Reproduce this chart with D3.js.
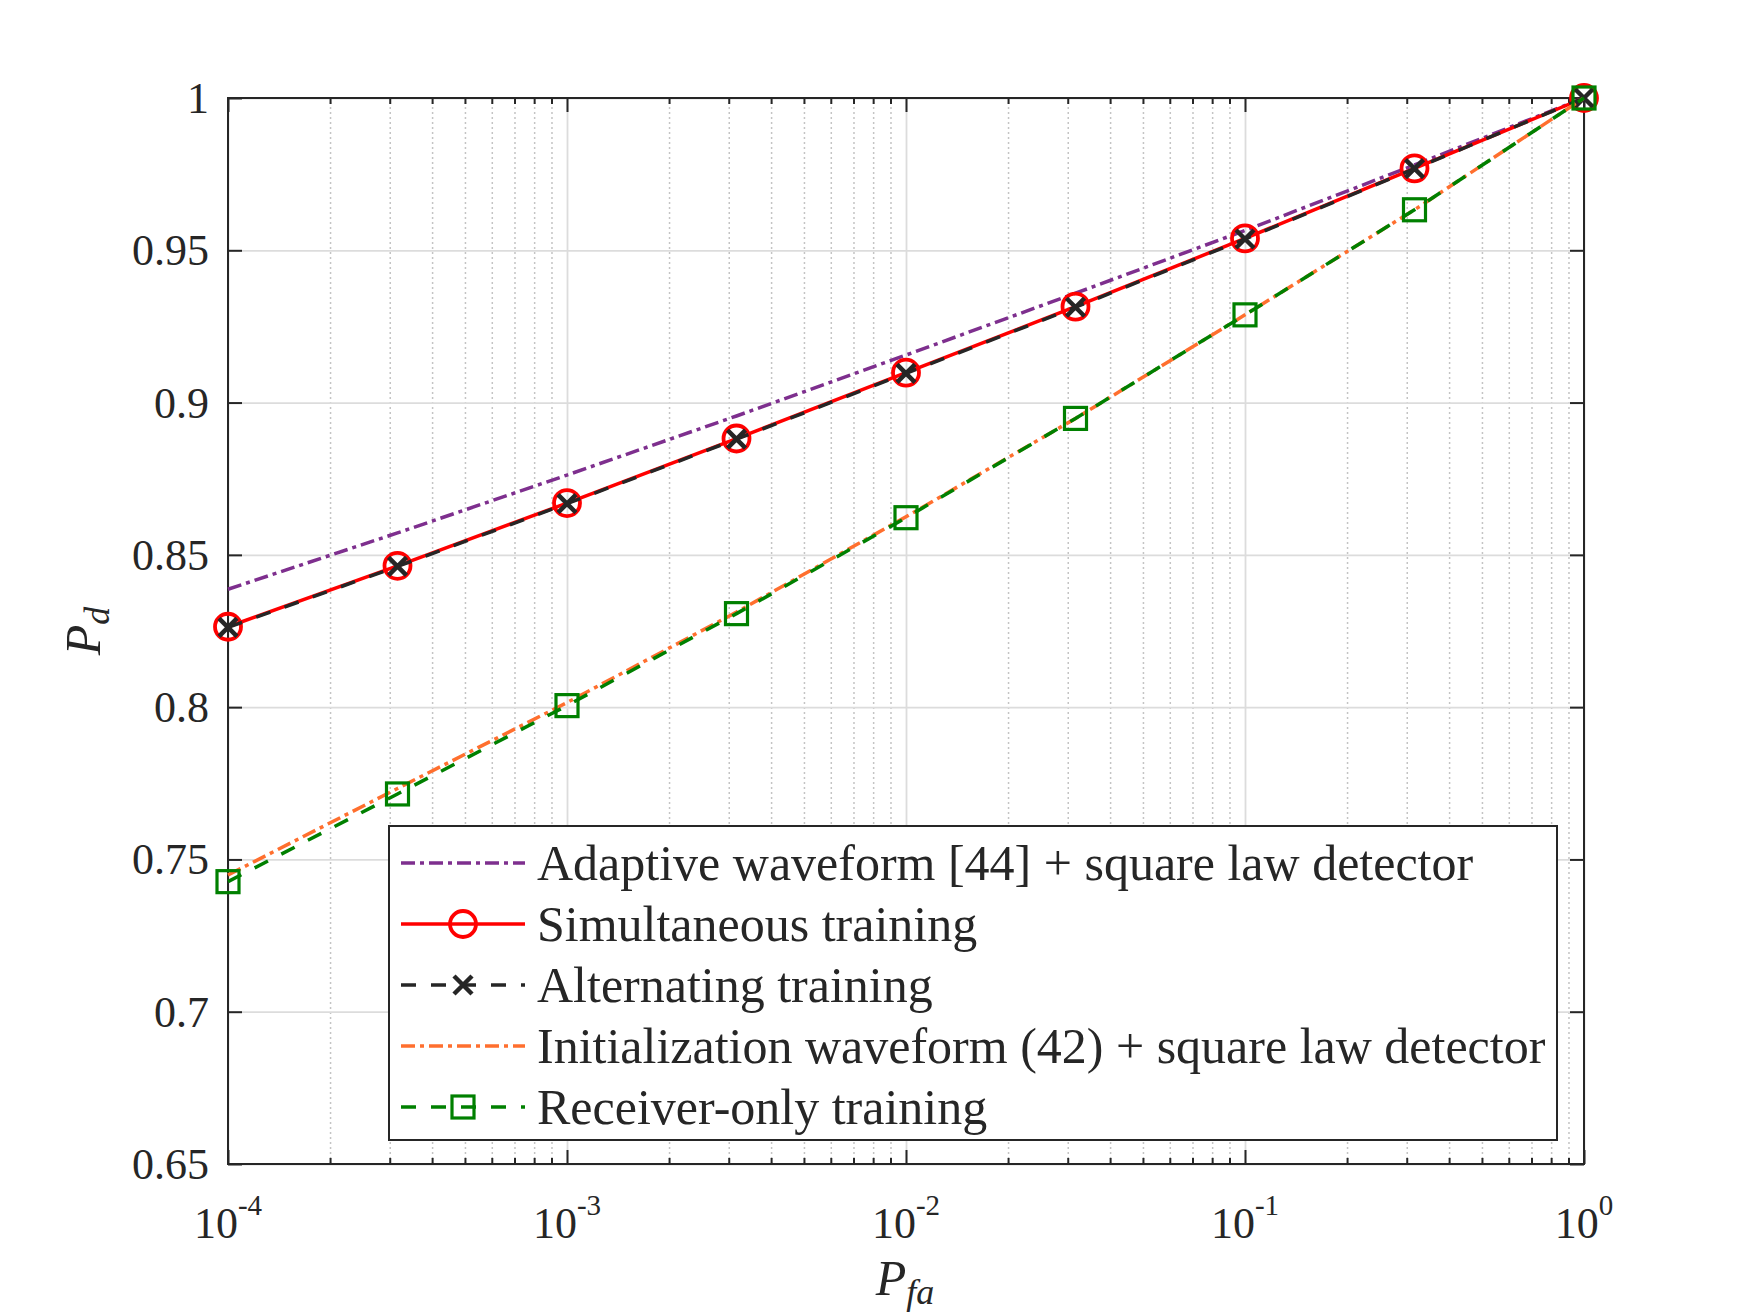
<!DOCTYPE html>
<html>
<head>
<meta charset="utf-8">
<script src="https://cdn.jsdelivr.net/npm/d3@7/dist/d3.min.js"></script>
<style>
  html, body { margin: 0; padding: 0; background: #ffffff; }
  svg { display: block; }
  text { font-family: "Liberation Serif", "Times New Roman", serif; fill: #262626; }
</style>
</head>
<body>
<svg id="chart" width="1750" height="1313"></svg>
<script>
// ---------------- DATA ----------------
const pfa = [1e-4, 3.1623e-4, 1e-3, 3.1623e-3, 1e-2, 3.1623e-2, 1e-1, 3.1623e-1, 1];
const adaptivePd       = [0.8387, 0.8572, 0.8762, 0.8956, 0.9156, 0.9359, 0.9565, 0.9780, 1.0];
const simultaneousPd   = [0.8264, 0.8464, 0.8670, 0.8882, 0.9098, 0.9315, 0.9539, 0.9769, 1.0];
const alternatingPd    = [0.8262, 0.8462, 0.8668, 0.8880, 0.9096, 0.9313, 0.9537, 0.9768, 1.0];
const initializationPd = [0.7449, 0.7733, 0.8015, 0.8312, 0.8625, 0.8948, 0.9288, 0.9633, 1.0];
const receiverOnlyPd   = [0.7427, 0.7715, 0.8005, 0.8307, 0.8622, 0.8948, 0.9288, 0.9633, 1.0];

const seriesNames = [
  "Adaptive waveform [44] + square law detector",
  "Simultaneous training",
  "Alternating training",
  "Initialization waveform (42) + square law detector",
  "Receiver-only training"
];
const xTickValues = [1e-4, 1e-3, 1e-2, 1e-1, 1];
const xTickExponents = ["-4", "-3", "-2", "-1", "0"];
const yTickValues = [0.65, 0.7, 0.75, 0.8, 0.85, 0.9, 0.95, 1];
const yTickLabels = ["0.65", "0.7", "0.75", "0.8", "0.85", "0.9", "0.95", "1"];

// ---------------- LAYOUT ----------------
const L = 228, R = 1584, T = 98, B = 1164;
const svg = d3.select("#chart");
const x = d3.scaleLog().domain([1e-4, 1]).range([L, R]);
const y = d3.scaleLinear().domain([0.65, 1]).range([B, T]);
const axisColor = "#262626";

const series = [
  { name: seriesNames[0], values: adaptivePd, color: "#7E2F8E", dash: "14,5,4,5", width: 3.5, marker: null },
  { name: seriesNames[1], values: simultaneousPd, color: "#FF0000", dash: null, width: 3.5, marker: "circle" },
  { name: seriesNames[2], values: alternatingPd, color: "#262626", dash: "15,15", width: 3.5, marker: "x" },
  { name: seriesNames[3], values: initializationPd, color: "#FF6F2E", dash: "14,5,4,5", width: 3.5, marker: null },
  { name: seriesNames[4], values: receiverOnlyPd, color: "#008000", dash: "15,15", width: 3.5, marker: "square" }
];

// ---------------- GRID ----------------
const minorX = x.ticks().filter(v => !xTickValues.some(t => Math.abs(Math.log10(v) - Math.log10(t)) < 1e-6));
const gGrid = svg.append("g");
gGrid.append("g")
  .attr("transform", `translate(0,${B})`)
  .call(d3.axisBottom(x).tickValues(minorX).tickSize(-(B - T)).tickFormat(""))
  .call(g => g.select(".domain").remove())
  .call(g => g.selectAll("line").attr("stroke", "#c4c4c4").attr("stroke-width", 1.5).attr("stroke-dasharray", "2,3"));
gGrid.append("g")
  .attr("transform", `translate(0,${B})`)
  .call(d3.axisBottom(x).tickValues(xTickValues).tickSize(-(B - T)).tickFormat(""))
  .call(g => g.select(".domain").remove())
  .call(g => g.selectAll("line").attr("stroke", "#dcdcdc").attr("stroke-width", 1.8));
gGrid.append("g")
  .attr("transform", `translate(${L},0)`)
  .call(d3.axisLeft(y).tickValues(yTickValues).tickSize(-(R - L)).tickFormat(""))
  .call(g => g.select(".domain").remove())
  .call(g => g.selectAll("line").attr("stroke", "#dcdcdc").attr("stroke-width", 1.8));

// ---------------- AXES (ticks inside, box) ----------------
function styleAxis(g) {
  g.select(".domain").remove();
  g.selectAll("line").attr("stroke", axisColor).attr("stroke-width", 2);
  g.selectAll("text").remove();
}
svg.append("g").attr("transform", `translate(0,${B})`).call(d3.axisBottom(x).tickValues(xTickValues).tickSize(-14)).call(styleAxis);
svg.append("g").attr("transform", `translate(0,${B})`).call(d3.axisBottom(x).tickValues(minorX).tickSize(-6)).call(styleAxis);
svg.append("g").attr("transform", `translate(0,${T})`).call(d3.axisTop(x).tickValues(xTickValues).tickSize(-14)).call(styleAxis);
svg.append("g").attr("transform", `translate(0,${T})`).call(d3.axisTop(x).tickValues(minorX).tickSize(-6)).call(styleAxis);
svg.append("g").attr("transform", `translate(${L},0)`).call(d3.axisLeft(y).tickValues(yTickValues).tickSize(-14)).call(styleAxis);
svg.append("g").attr("transform", `translate(${R},0)`).call(d3.axisRight(y).tickValues(yTickValues).tickSize(-14)).call(styleAxis);

svg.append("rect")
  .attr("x", L).attr("y", T).attr("width", R - L).attr("height", B - T)
  .attr("fill", "none").attr("stroke", axisColor).attr("stroke-width", 2);

// tick labels
svg.append("g").selectAll("text").data(yTickValues).join("text")
  .attr("x", L - 19).attr("y", d => y(d) + 15)
  .attr("text-anchor", "end").attr("font-size", 44)
  .text((d, i) => yTickLabels[i]);

const xl = svg.append("g").selectAll("text").data(xTickValues).join("text")
  .attr("x", d => x(d)).attr("y", B + 74)
  .attr("text-anchor", "middle").attr("font-size", 44);
xl.append("tspan").text("10");
xl.append("tspan").attr("font-size", 29).attr("dy", -23).text((d, i) => xTickExponents[i]);

// axis labels
const xlab = svg.append("text").attr("x", 905).attr("y", 1295).attr("text-anchor", "middle")
  .attr("font-size", 50).attr("font-style", "italic");
xlab.append("tspan").text("P");
xlab.append("tspan").attr("font-size", 36).attr("dy", 9).text("fa");

const ylab = svg.append("text").attr("transform", "translate(100,631) rotate(-90)").attr("text-anchor", "middle")
  .attr("font-size", 50).attr("font-style", "italic");
ylab.append("tspan").text("P");
ylab.append("tspan").attr("font-size", 36).attr("dy", 9).text("d");

// ---------------- DATA LINES ----------------
const line = d3.line().x((d, i) => x(pfa[i])).y(d => y(d));

function drawMarker(g, type, cx, cy, color) {
  if (type === "circle") {
    g.append("circle").attr("cx", cx).attr("cy", cy).attr("r", 13)
      .attr("fill", "none").attr("stroke", color).attr("stroke-width", 3.8);
  } else if (type === "x") {
    const s = 9;
    g.append("path").attr("d", `M${cx - s},${cy - s}L${cx + s},${cy + s}M${cx - s},${cy + s}L${cx + s},${cy - s}`)
      .attr("stroke", color).attr("stroke-width", 4.5).attr("fill", "none");
  } else if (type === "square") {
    const s = 11;
    g.append("rect").attr("x", cx - s).attr("y", cy - s).attr("width", 2 * s).attr("height", 2 * s)
      .attr("fill", "none").attr("stroke", color).attr("stroke-width", 3.2);
  }
}

const gData = svg.append("g");
series.forEach(s => {
  const g = gData.append("g");
  g.append("path").datum(s.values).attr("d", line)
    .attr("fill", "none").attr("stroke", s.color).attr("stroke-width", s.width)
    .attr("stroke-dasharray", s.dash).attr("stroke-linejoin", "round");
  if (s.marker) s.values.forEach((v, i) => drawMarker(g, s.marker, x(pfa[i]), y(v), s.color));
});

// ---------------- LEGEND ----------------
const lg = svg.append("g");
lg.append("rect").attr("x", 389).attr("y", 826).attr("width", 1168).attr("height", 314)
  .attr("fill", "#ffffff").attr("stroke", axisColor).attr("stroke-width", 2);
const rowY = d3.scaleLinear().domain([0, 4]).range([863, 1107]);
series.forEach((s, i) => {
  const ry = rowY(i);
  lg.append("line").attr("x1", 401).attr("x2", 525).attr("y1", ry).attr("y2", ry)
    .attr("stroke", s.color).attr("stroke-width", s.width).attr("stroke-dasharray", s.dash);
  if (s.marker) drawMarker(lg, s.marker, 463, ry, s.color);
  lg.append("text").attr("x", 537).attr("y", ry + 17).attr("font-size", 50).attr("fill", "#000").text(s.name);
});
</script>
</body>
</html>
